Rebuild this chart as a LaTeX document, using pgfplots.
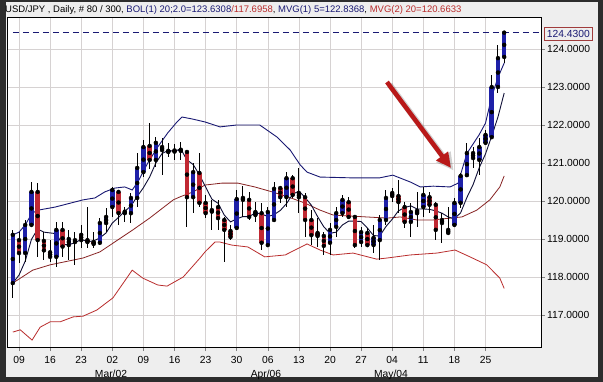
\documentclass[border=0pt]{standalone}
\usepackage{fontspec}
\setmainfont{Liberation Sans}
\usepackage{pgfplots}
\pgfplotsset{compat=1.18}
\usepackage{pgfplotstable}
\usetikzlibrary{arrows.meta}

\definecolor{candleblue}{RGB}{30,32,168}
\definecolor{candlered}{RGB}{192,40,50}
\definecolor{bolup}{RGB}{25,25,115}
\definecolor{bollow}{RGB}{185,45,45}
\definecolor{mvgfive}{RGB}{15,15,55}
\definecolor{mvgtwenty}{RGB}{135,35,35}
\definecolor{framegray}{RGB}{45,45,45}
\definecolor{bggray}{RGB}{238,238,238}
\definecolor{gridgray}{RGB}{214,210,210}
\definecolor{arrowred}{RGB}{185,25,25}
\definecolor{boxred}{RGB}{160,60,60}

% up candles: index, open, high, low, close
\pgfplotstableread{
i o h l c
0 117.84 119.24 117.45 119.11
2 118.63 119.50 118.40 119.37
3 119.37 120.50 119.32 120.24
7 118.53 119.45 118.26 119.24
9 118.84 119.24 118.45 119.00
10 118.92 119.18 118.32 118.97
14 118.90 119.55 118.84 119.42
15 119.42 119.82 119.18 119.58
16 119.84 120.37 119.58 120.29
19 119.68 120.21 119.42 120.08
20 120.08 121.26 119.84 120.87
21 120.76 121.61 120.63 121.42
23 121.08 121.68 120.89 121.53
25 121.29 121.53 121.16 121.32
27 121.32 121.55 121.08 121.35
29 120.10 121.00 119.68 120.76
36 119.29 120.29 119.24 120.05
39 119.63 119.97 119.45 119.71
41 118.84 119.84 118.79 119.71
42 119.50 120.50 119.45 120.32
44 120.10 120.76 119.84 120.60
51 118.90 119.42 118.58 119.24
52 119.32 119.84 119.05 119.68
53 119.68 120.16 119.58 120.03
56 118.92 119.32 118.79 119.18
58 118.84 119.37 118.63 119.03
59 118.97 119.63 118.45 119.50
60 119.50 120.29 119.37 120.08
64 119.45 119.95 119.05 119.71
66 119.84 120.37 119.58 120.16
71 119.37 120.08 119.32 119.95
72 119.95 120.74 119.82 120.66
73 120.68 121.53 120.63 121.26
75 121.08 121.66 120.68 121.42
76 121.53 121.87 121.47 121.74
77 121.68 123.32 121.66 123.00
78 123.00 124.11 122.84 123.76
79 123.79 124.43 123.63 124.43
}\upcandles

% down candles: index, open, high, low, close
\pgfplotstableread{
i o h l c
1 118.97 119.18 118.37 118.63
4 120.24 120.47 118.53 118.97
5 118.95 119.18 118.45 118.70
6 118.65 118.97 118.40 118.53
8 119.24 119.45 118.53 118.80
11 119.11 119.37 118.76 118.97
12 118.97 119.84 118.76 118.92
13 118.92 119.18 118.76 118.87
17 120.24 120.29 119.37 119.68
18 119.72 119.84 119.45 119.68
22 121.45 122.05 120.84 121.08
24 121.42 121.66 120.68 121.34
26 121.33 121.50 121.08 121.30
28 121.29 121.34 119.32 120.10
30 120.74 121.26 119.84 119.95
31 119.95 120.16 119.55 119.68
32 119.76 120.03 119.24 119.72
33 119.84 120.03 119.24 119.55
34 119.50 119.58 118.39 119.24
35 119.21 119.37 118.97 119.05
37 120.08 120.39 119.58 120.03
38 120.03 120.24 119.50 119.58
40 119.68 119.95 118.71 118.90
43 120.34 120.39 119.95 120.10
45 120.60 120.68 120.08 120.16
46 120.21 120.87 119.68 120.10
47 120.10 120.21 119.05 119.50
48 119.50 119.76 118.84 119.10
49 119.16 119.55 118.79 119.08
50 119.08 119.18 118.58 118.82
54 119.97 120.11 119.55 119.58
55 119.58 119.63 118.76 118.84
57 119.16 119.29 118.79 118.84
61 120.21 120.34 119.97 120.13
62 120.13 120.55 119.68 119.97
63 119.84 119.97 119.29 119.45
65 119.74 120.24 119.32 119.68
67 120.10 120.24 119.68 119.90
68 119.90 119.97 118.97 119.24
69 119.50 119.68 118.89 119.42
70 119.24 119.84 119.11 119.16
74 121.26 121.42 120.87 121.13
}\downcandles

\pgfplotstableread{
i v
0 117.84
1 118.05
2 118.42
3 118.99
4 119.26
5 119.18
6 119.16
7 119.14
8 118.85
9 118.85
10 118.90
11 118.99
12 118.93
13 118.95
14 119.03
15 119.16
16 119.42
17 119.57
18 119.73
19 119.87
20 120.12
21 120.35
22 120.63
23 121.00
24 121.25
25 121.33
26 121.31
27 121.37
28 121.08
29 120.96
30 120.69
31 120.37
32 120.05
33 119.94
34 119.63
35 119.45
36 119.53
37 119.59
38 119.59
39 119.69
40 119.66
41 119.59
42 119.64
43 119.75
44 119.93
45 120.18
46 120.26
47 120.09
48 119.89
49 119.59
50 119.32
51 119.15
52 119.18
53 119.37
54 119.47
55 119.47
56 119.46
57 119.29
58 119.09
59 119.08
60 119.33
61 119.52
62 119.74
63 119.83
64 119.87
65 119.79
66 119.79
67 119.78
68 119.74
69 119.68
70 119.58
71 119.53
72 119.69
73 120.09
74 120.43
75 120.88
76 121.24
77 121.71
78 122.21
79 122.84
}\mvgfivetab

\pgfplotstableread{
i v
0 117.84
3.2 118.18
6 118.32
11.3 118.50
14 118.66
19.3 119.24
22 119.55
25.8 120.03
26.9 120.11
29 120.24
30.9 120.42
33.6 120.47
36.2 120.47
38.9 120.37
41.7 120.24
44.2 120.11
46.9 119.95
49.4 119.76
51.5 119.63
56.9 119.58
60.2 119.55
62.3 119.58
65 119.50
67.5 119.50
70.3 119.55
72.2 119.58
74.6 119.76
76.7 120.03
78.3 120.37
79 120.66
}\mvgtwentytab

\pgfplotstableread{
i v
0 116.55
1.2 116.61
3.1 116.34
4.4 116.68
6 116.82
7.6 116.82
9.7 116.95
11.3 116.97
13.5 117.13
16.1 117.45
19.2 118.18
20.9 117.97
23.3 117.79
24.8 117.76
27.4 118.00
30.1 118.50
30.9 118.66
32.5 118.92
33.3 118.92
35.2 118.84
37.8 118.79
40.5 118.53
43.8 118.58
47.3 118.87
49.4 118.71
51.5 118.58
54.7 118.63
58.5 118.47
60.2 118.50
63.9 118.58
68.2 118.63
71.1 118.71
73.5 118.53
76.2 118.32
78.3 117.97
79 117.70
}\bollowtab

\pgfplotstableread{
i v
0 119.11
1 119.18
2 119.37
3.1 119.68
4.1 119.76
6.8 119.84
11.3 120.03
13.2 120.08
14.8 120.24
16.4 120.34
18 120.37
19.2 120.29
20.1 120.50
21.7 121.00
23.3 121.42
24.9 121.79
26.4 122.08
27.2 122.21
28.8 122.16
30.9 122.08
33.3 121.95
36 122.00
39.7 122.00
42.5 121.68
44.6 121.34
46.2 120.95
47.3 120.76
49.4 120.63
54.2 120.61
59 120.61
61.1 120.68
63.9 120.50
65.5 120.37
67.6 120.39
70.3 120.37
71.6 120.47
72 120.70
73 121.25
74 121.50
75 121.75
76 122.05
77 122.75
78 123.25
79 123.63
}\boluptab

\newcommand{\chartfont}{\fontsize{10.3bp}{12bp}\selectfont}
\newcommand{\titlefont}{\fontsize{9.5bp}{11bp}\selectfont}

\pgfplotsset{
  wick/.style={only marks, mark=none, error bars/.cd, y dir=#1, y explicit, error mark=none,
    error bar style={line width=1bp, draw=black}},
  body/.style={only marks, mark=none, error bars/.cd, y dir=both, y explicit, error mark=none,
    error bar style={line width=4.5bp, draw=#1}},
}

\begin{document}
\begin{tikzpicture}
\fill[framegray] (0bp,0bp) rectangle (603bp,382bp);
\fill[bggray] (6bp,5bp) rectangle (598bp,380bp);
\node[anchor=base west, inner sep=0pt, font=\titlefont] at (5bp,369.5bp)
 {USD/JPY , Daily, \# 80 / 300, \textcolor{bolup}{BOL(1) 20;2.0=123.6308}\textcolor{bollow}{/117.6958}, \textcolor{bolup}{MVG(1) 5=122.8368}, \textcolor{bollow}{MVG(2) 20=120.6633}};
\begin{axis}[
  at={(7bp,35bp)}, anchor=south west,
  width=534bp, height=330bp, scale only axis,
  xmin=-0.932, xmax=84.92, ymin=116.158, ymax=124.842,
  clip=false,
  axis background/.style={fill=white},
  axis line style={black, line width=0.9bp},
  xtick={1,6,11,16,21,26,31,36,41,46,51,56,61,66,71,76},
  xticklabels={09,16,23,02,09,16,23,30,06,13,20,27,04,11,18,25},
  ytick={117,118,119,120,121,122,123,124},
  xtick pos=left, xticklabel pos=left,
  ytick pos=right, yticklabel pos=right,
  tick align=outside, major tick length=4bp,
  tick style={gray, line width=0.6bp},
  grid=major, grid style={gridgray, line width=0.6bp},
  ticklabel style={font=\chartfont},
  xticklabel style={inner sep=0pt, yshift=-5bp},
  yticklabel style={inner sep=0pt, xshift=2bp, anchor=west,
    /pgf/number format/.cd, fixed, fixed zerofill, precision=4, 1000 sep={}, assume math mode=true},
]
% dashed last-price line
\addplot[bolup, dashed, dash pattern=on 6bp off 4bp, line width=0.8bp, forget plot] coordinates {(0,124.43) (84.92,124.43)};
% bands and averages
\addplot[bolup, line width=0.9bp] table[x=i,y=v] \boluptab;
\addplot[bollow, line width=0.8bp] table[x=i,y=v] \bollowtab;
\addplot[mvgtwenty, line width=0.8bp] table[x=i,y=v] \mvgtwentytab;
\addplot[mvgfive, line width=0.9bp] table[x=i,y=v] \mvgfivetab;
% wicks (upper and lower parts, outside the bodies)
\addplot[wick=plus]  table[x=i, y=c, y error expr={\thisrow{h}-\thisrow{c}}] \upcandles;
\addplot[wick=minus] table[x=i, y=o, y error expr={\thisrow{o}-\thisrow{l}}] \upcandles;
\addplot[wick=plus]  table[x=i, y=o, y error expr={\thisrow{h}-\thisrow{o}}] \downcandles;
\addplot[wick=minus] table[x=i, y=c, y error expr={\thisrow{c}-\thisrow{l}}] \downcandles;
% bodies
\addplot[body=candleblue]
  table[x=i, y expr={(\thisrow{o}+\thisrow{c})/2}, y error expr={max(abs(\thisrow{c}-\thisrow{o})/2,0.015)}] \upcandles;
\addplot[body=candlered]
  table[x=i, y expr={(\thisrow{o}+\thisrow{c})/2}, y error expr={max(abs(\thisrow{c}-\thisrow{o})/2,0.015)}] \downcandles;
% arrow annotation
\draw[black, opacity=0.18, line width=6bp, -{Triangle[length=17bp,width=17bp]}]
  ([xshift=2.5bp,yshift=-2.5bp]axis cs:60.16,123.13) -- ([xshift=2.5bp,yshift=-2.5bp]axis cs:70.45,120.87);
\draw[arrowred, line width=4.5bp, -{Triangle[length=15bp,width=14bp]}]
  (axis cs:60.16,123.13) -- (axis cs:70.45,120.87);
\end{axis}
\node[draw=boxred, text=bolup, fill=bggray, line width=0.6bp, anchor=west, inner xsep=2.5bp, inner ysep=0pt, minimum height=13bp, font=\chartfont] at (544bp,348.5bp) {124.4300};
\node[anchor=base, inner sep=0pt, font=\chartfont] at (111bp,5bp) {Mar/02};
\node[anchor=base, inner sep=0pt, font=\chartfont] at (266bp,5bp) {Apr/06};
\node[anchor=base, inner sep=0pt, font=\chartfont] at (391bp,5bp) {May/04};
\end{tikzpicture}
\end{document}
